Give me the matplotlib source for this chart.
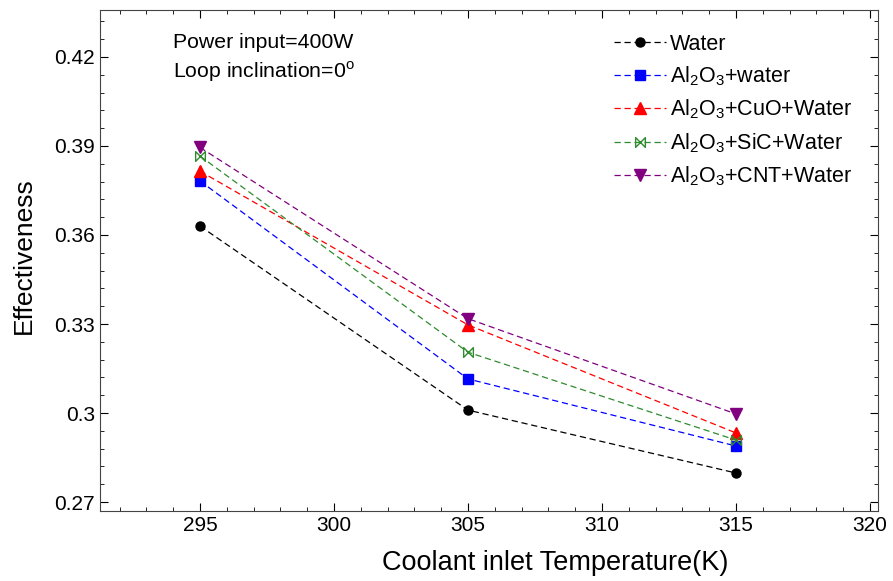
import numpy as np
import matplotlib
matplotlib.use("Agg")
import matplotlib.pyplot as plt
from matplotlib.path import Path
from matplotlib.ticker import MultipleLocator

plt.rcParams["font.family"] = ["Liberation Sans", "DejaVu Sans"]
plt.rcParams["mathtext.fontset"] = "custom"
plt.rcParams["mathtext.rm"] = "Liberation Sans"

temps = [295, 305, 315]
water = [0.3630, 0.3010, 0.2798]
al2o3 = [0.3782, 0.3115, 0.2889]
al2o3_cuo = [0.3815, 0.3297, 0.2933]
al2o3_sic = [0.3866, 0.3205, 0.2909]
al2o3_cnt = [0.3895, 0.3318, 0.2997]

labels = ["Water", r"Al$_2$O$_3$+water", r"Al$_2$O$_3$+CuO+Water",
          r"Al$_2$O$_3$+SiC+Water", r"Al$_2$O$_3$+CNT+Water"]

bowtie = Path([(-1, -1), (1, 1), (1, -1), (-1, 1), (-1, -1)],
              [Path.MOVETO, Path.LINETO, Path.LINETO, Path.LINETO, Path.CLOSEPOLY])

styles = [
    dict(color="black", marker="o", ms=6.5),
    dict(color="blue", marker="s", ms=7),
    dict(color="red", marker="^", ms=8),
    dict(color="#2e8b2e", marker=bowtie, ms=7, mfc="none"),
    dict(color="purple", marker="v", ms=8),
]

fig = plt.figure(figsize=(8.93, 5.81), dpi=100)
ax = fig.add_axes([100 / 893, 1 - 511 / 581, 778 / 893, 501 / 581])

series = [water, al2o3, al2o3_cuo, al2o3_sic, al2o3_cnt]
for vals, lab, st in zip(series, labels, styles):
    ax.plot(temps, vals, linestyle="--", linewidth=0.9, dashes=(5, 3), label=lab, **st)

ax.set_xlim(291.27, 320.3)
ax.set_ylim(0.267, 0.4358)
ax.set_xticks([295, 300, 305, 310, 315, 320])
ax.set_yticks([0.27, 0.3, 0.33, 0.36, 0.39, 0.42])
ax.set_yticklabels(["0.27", "0.3", "0.33", "0.36", "0.39", "0.42"])
ax.xaxis.set_minor_locator(MultipleLocator(1))
ax.yaxis.set_minor_locator(MultipleLocator(0.006))
ax.tick_params(which="both", direction="in", top=True, right=True, labelsize=15)
ax.tick_params(which="major", length=6)
ax.tick_params(which="minor", length=3)
for sp in ax.spines.values():
    sp.set_color("#444444")

ax.set_xlabel("Coolant inlet Temperature(K)", fontsize=19.5)
ax.xaxis.set_label_coords(0.585, -0.078)
ax.set_ylabel("Effectiveness", fontsize=19)
ax.yaxis.set_label_coords(-0.082, 0.51)

ax.text(0.094, 0.936, "Power input=400W", transform=ax.transAxes, fontsize=15.3, va="center")
ax.text(0.094, 0.876, "Loop inclination=0$^{\\rm o}$", transform=ax.transAxes, fontsize=15.3, va="center")

leg = ax.legend(loc="upper left", bbox_to_anchor=(0.661, 0.953), frameon=False, fontsize=15.5,
                handlelength=2.4, labelspacing=0.455, handletextpad=0.2,
                borderaxespad=0, borderpad=0)

plt.savefig("out.png", dpi=100)
plt.close(fig)
